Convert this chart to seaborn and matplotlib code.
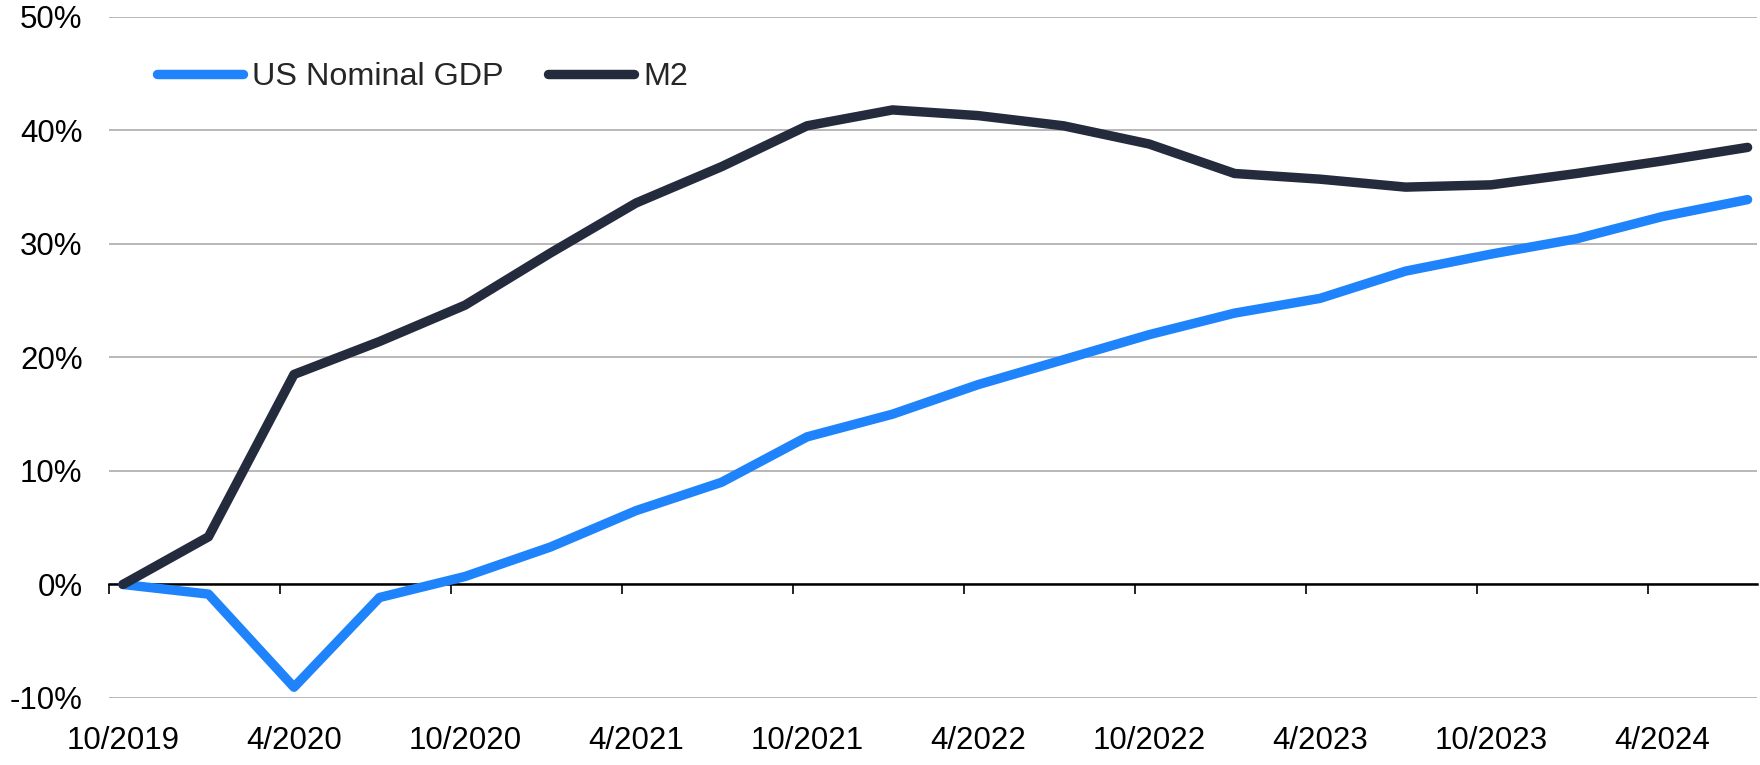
import numpy as np
import pandas as pd
import seaborn as sns
import matplotlib.pyplot as plt
from matplotlib.ticker import FixedLocator, FixedFormatter

# quarterly cumulative growth since 10/2019, in %
quarters = ['10/2019', '1/2020', '4/2020', '7/2020', '10/2020', '1/2021', '4/2021', '7/2021',
            '10/2021', '1/2022', '4/2022', '7/2022', '10/2022', '1/2023', '4/2023', '7/2023',
            '10/2023', '1/2024', '4/2024', '7/2024']
gdp = [0.0, -0.85, -9.05, -1.15, 0.7, 3.3, 6.5, 9.0, 13.0, 15.0,
       17.6, 19.8, 22.0, 23.9, 25.2, 27.6, 29.1, 30.45, 32.4, 33.9]
m2 = [0.0, 4.2, 18.5, 21.4, 24.6, 29.2, 33.6, 36.8, 40.4, 41.8,
      41.3, 40.4, 38.8, 36.2, 35.7, 35.0, 35.2, 36.2, 37.3, 38.5]
series = ['US Nominal GDP', 'M2']
colors = ['#1f84fb', '#242b3d']
y_ticks = [-10, 0, 10, 20, 30, 40, 50]

df = pd.DataFrame({'q': np.arange(len(quarters)), series[0]: gdp, series[1]: m2})
df = df.melt(id_vars='q', var_name='series', value_name='pct')

sns.set_theme(style='white')
plt.rcParams['font.family'] = ['Liberation Sans', 'DejaVu Sans']

fig = plt.figure(figsize=(17.6, 7.65), dpi=100)
ax = fig.add_axes([0.0619, 0.0876, 0.9364, 0.8904])

sns.lineplot(data=df, x='q', y='pct', hue='series', hue_order=series,
             palette=dict(zip(series, colors)), linewidth=6.8, ax=ax,
             legend=False, solid_capstyle='round', solid_joinstyle='round', zorder=3)

ax.set_xlim(-0.164, 19.11)
ax.set_ylim(-10, 50)

# y axis: gridlines + percent labels
ax.set_yticks(y_ticks)
ax.set_yticklabels([f'{v}%' for v in y_ticks])
ax.yaxis.grid(True, color='#ababab', linewidth=1.2)
ax.xaxis.grid(False)
ax.set_axisbelow(True)
ax.tick_params(axis='y', length=0, pad=19, labelsize=22.5, labelcolor='black')

# x axis sits on the 0% line, labels low
for s in ['top', 'right', 'left']:
    ax.spines[s].set_visible(False)
ax.spines['bottom'].set_position(('data', 0))
ax.spines['bottom'].set_color('black')
ax.spines['bottom'].set_linewidth(1.8)

label_pos = list(range(0, len(quarters), 2))
ax.xaxis.set_major_locator(FixedLocator(label_pos))
ax.xaxis.set_major_formatter(FixedFormatter(quarters[::2]))
ax.xaxis.set_minor_locator(FixedLocator([p - 0.164 for p in label_pos]))
ax.tick_params(axis='x', which='major', length=0, pad=102, labelsize=22.5, labelcolor='black')
ax.tick_params(axis='x', which='minor', bottom=True, length=7.2, width=1.2,
               direction='out', color='black')
ax.set_xlabel('')
ax.set_ylabel('')

ax.legend(handles=ax.lines[:2], labels=series, loc='center left',
          bbox_to_anchor=(157 / 1760, 1 - 77 / 765), bbox_transform=fig.transFigure,
          ncol=2, frameon=False, fontsize=23.3, handlelength=2.65, handletextpad=0.3,
          columnspacing=1.35, borderpad=0, borderaxespad=0)

fig.savefig('out.png', dpi=100)
